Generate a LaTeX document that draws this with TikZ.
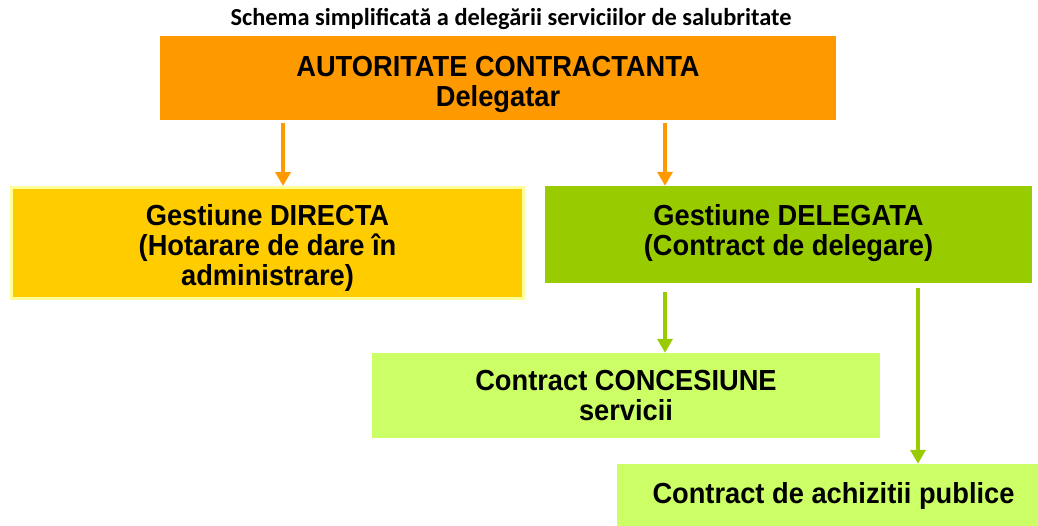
\documentclass[tikz,border=0pt]{standalone}
\usepackage{fontspec}
\setmainfont{Liberation Sans}
\newfontfamily\boxfont[FakeStretch=0.94]{Liberation Sans}
\newfontfamily\titlefont{Carlito}
\usetikzlibrary{arrows.meta}
\definecolor{corange}{HTML}{FF9900}
\definecolor{cyellow}{HTML}{FFCC00}
\definecolor{cpale}{HTML}{FFFF99}
\definecolor{cgreen}{HTML}{99CC00}
\definecolor{clime}{HTML}{CCFF66}
\tikzset{
  box/.style={rectangle, inner sep=0pt, align=center, font=\boxfont\bfseries\fontsize{29}{30}\selectfont},
  oarr/.style={draw=corange, line width=4pt, -{Triangle[length=14pt,width=15pt]}},
  garr/.style={draw=cgreen, line width=4pt, -{Triangle[length=14pt,width=15pt]}},
}
\begin{document}
\begin{tikzpicture}[x=1pt,y=-1pt]
\useasboundingbox (0,0) rectangle (1038,525);
\node[font=\titlefont\bfseries\fontsize{24.4}{28}\selectfont] (title) at (511,19) {Schema simplificată a delegării serviciilor de salubritate};
\node[box, fill=corange, minimum width=676pt, minimum height=84pt] (top) at (498,78) {\rule{0pt}{33pt}AUTORITATE CONTRACTANTA\\Delegatar};
\node[box, fill=cyellow, draw=cpale, line width=3pt, minimum width=512pt, minimum height=111pt] (left) at (267.5,243) {\rule{0pt}{31pt}Gestiune DIRECTA\\(Hotarare de dare în\\administrare)};
\node[box, fill=cgreen, minimum width=487pt, minimum height=97pt] (right) at (788.5,234.5) {Gestiune DELEGATA\\(Contract de delegare)\rule[-10pt]{0pt}{0pt}};
\node[box, fill=clime, minimum width=508pt, minimum height=85pt] (conc) at (626,395.5) {Contract CONCESIUNE\\servicii};
\node[box, fill=clime, minimum width=421pt, minimum height=64pt] (achiz) at (827.5,496) {\hspace*{12pt}Contract de achizitii publice};
\coordinate (xa) at (283,0);
\coordinate (xb) at (665,0);
\coordinate (xc) at (918,0);
\draw[oarr] ([yshift=-3pt]top.south -| xa) -- (left.north -| xa);
\draw[oarr] ([yshift=-3pt]top.south -| xb) -- (right.north -| xb);
\draw[garr] ([yshift=-9pt]right.south -| xb) -- (conc.north -| xb);
\draw[garr] ([yshift=-5pt]right.south -| xc) -- (achiz.north -| xc);
\end{tikzpicture}
\end{document}
